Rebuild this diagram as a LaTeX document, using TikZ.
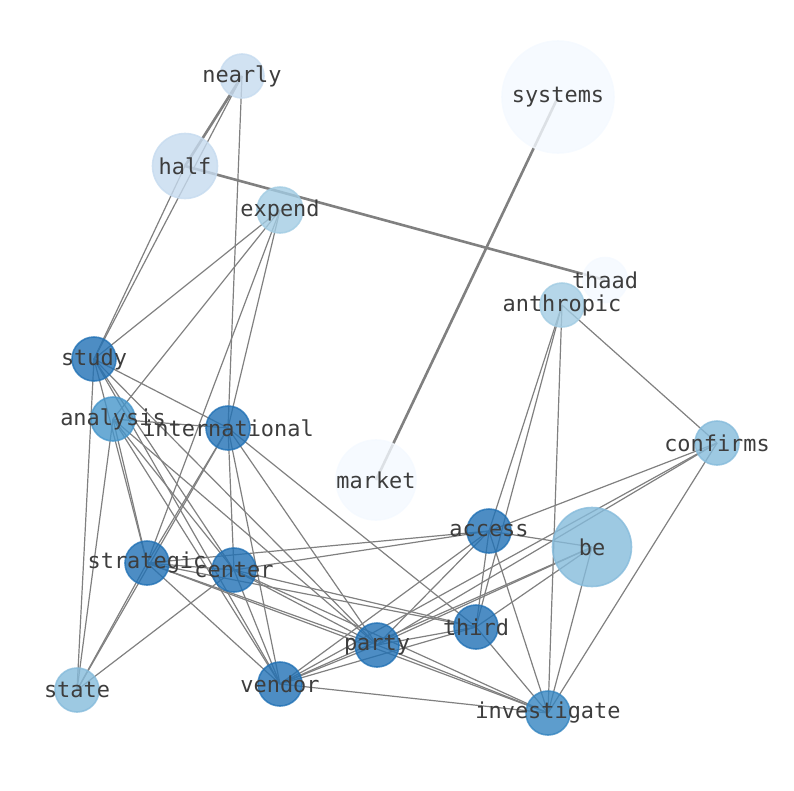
\documentclass[tikz,border=0pt]{standalone}
\usepackage{fontspec}
\setmonofont{DejaVu Sans Mono}
\usetikzlibrary{backgrounds}

\definecolor{bluedeep}{HTML}{2171B5}
\definecolor{bluemid}{HTML}{3585C0}
\definecolor{bluesoft}{HTML}{4696CB}
\definecolor{bluelight}{HTML}{85BBDB}
\definecolor{bluepale}{HTML}{A2CCE3}
\definecolor{bluemist}{HTML}{C6DBEF}
\definecolor{bluewhite}{HTML}{F4F9FF}
\newcommand{\wordfont}{\ttfamily\fontsize{21.9}{26}\selectfont}

\begin{document}
\begin{tikzpicture}[x=1pt, y=-1pt,
    word/.style={circle, inner sep=0pt, minimum size=44pt, line width=1.6pt,
      fill opacity=0.8, draw opacity=0.8,
      label={[inner sep=0pt, text opacity=1, text=black!76, font=\wordfont]center:#1}},
    tone/.style={fill=#1, draw=#1},
    link/.style={draw=gray, line width=1.2pt},
    heavy/.style={draw=gray, line width=2.6pt}]
  \useasboundingbox (0,0) rectangle (794,790);

  % words
  \node[word=systems, tone=bluewhite, minimum size=112pt] (systems) at (558, 97) {};
  \node[word=market, tone=bluewhite, minimum size=80pt] (market) at (376, 480) {};
  \node[word=thaad, tone=bluewhite, minimum size=45pt] (thaad) at (605, 280) {};
  \node[word=nearly, tone=bluemist] (nearly) at (242, 76) {};
  \node[word=half, tone=bluemist, minimum size=65pt] (half) at (185, 166) {};
  \node[word=expend, tone=bluepale, minimum size=46pt] (expend) at (280, 210) {};
  \node[word=anthropic, tone=bluepale] (anthropic) at (562, 305) {};
  \node[word=confirms, tone=bluelight] (confirms) at (717, 443) {};
  \node[word=be, tone=bluelight, minimum size=79pt] (be) at (592, 547) {};
  \node[word=state, tone=bluelight] (state) at (77, 690) {};
  \node[word=study, tone=bluedeep] (study) at (94, 359) {};
  \node[word=analysis, tone=bluesoft] (analysis) at (113, 419) {};
  \node[word=international, tone=bluedeep] (international) at (228, 428) {};
  \node[word=access, tone=bluedeep] (access) at (489, 531) {};
  \node[word=strategic, tone=bluedeep] (strategic) at (147, 563) {};
  \node[word=center, tone=bluedeep] (center) at (234, 570) {};
  \node[word=third, tone=bluedeep] (third) at (476, 627) {};
  \node[word=party, tone=bluedeep] (party) at (377, 645) {};
  \node[word=vendor, tone=bluedeep] (vendor) at (280, 684) {};
  \node[word=investigate, tone=bluemid] (investigate) at (548, 713) {};

  \begin{pgfonlayer}{background}
    % heavy links
    \draw[heavy] (nearly.center) -- (half.center);
    \draw[heavy] (half.center) -- (thaad.center);
    \draw[heavy] (systems.center) -- (market.center);
    % top words
    \draw[link] (nearly.center) -- (study.center);
    \draw[link] (nearly.center) -- (international.center);
    \draw[link] (half.center) -- (study.center);
    \draw[link] (expend.center) -- (study.center);
    \draw[link] (expend.center) -- (analysis.center);
    \draw[link] (expend.center) -- (strategic.center);
    \draw[link] (expend.center) -- (international.center);
    % study and analysis
    \draw[link] (study.center) -- (international.center);
    \draw[link] (study.center) -- (strategic.center);
    \draw[link] (study.center) -- (state.center);
    \draw[link] (study.center) -- (center.center);
    \draw[link] (study.center) -- (vendor.center);
    \draw[link] (study.center) -- (party.center);
    \draw[link] (analysis.center) -- (international.center);
    \draw[link] (analysis.center) -- (strategic.center);
    \draw[link] (analysis.center) -- (state.center);
    \draw[link] (analysis.center) -- (center.center);
    \draw[link] (analysis.center) -- (vendor.center);
    \draw[link] (analysis.center) -- (party.center);
    % international
    \draw[link] (international.center) -- (strategic.center);
    \draw[link] (international.center) -- (state.center);
    \draw[link] (international.center) -- (center.center);
    \draw[link] (international.center) -- (vendor.center);
    \draw[link] (international.center) -- (party.center);
    \draw[link] (international.center) -- (third.center);
    % strategic and center
    \draw[link] (strategic.center) -- (state.center);
    \draw[link] (strategic.center) -- (center.center);
    \draw[link] (strategic.center) -- (access.center);
    \draw[link] (strategic.center) -- (third.center);
    \draw[link] (strategic.center) -- (party.center);
    \draw[link] (strategic.center) -- (vendor.center);
    \draw[link] (strategic.center) -- (investigate.center);
    \draw[link] (center.center) -- (state.center);
    \draw[link] (center.center) -- (access.center);
    \draw[link] (center.center) -- (third.center);
    \draw[link] (center.center) -- (party.center);
    \draw[link] (center.center) -- (vendor.center);
    \draw[link] (center.center) -- (investigate.center);
    % right side
    \draw[link] (anthropic.center) -- (confirms.center);
    \draw[link] (anthropic.center) -- (access.center);
    \draw[link] (anthropic.center) -- (third.center);
    \draw[link] (anthropic.center) -- (investigate.center);
    \draw[link] (confirms.center) -- (access.center);
    \draw[link] (confirms.center) -- (party.center);
    \draw[link] (confirms.center) -- (vendor.center);
    \draw[link] (confirms.center) -- (investigate.center);
    \draw[link] (access.center) -- (be.center);
    \draw[link] (access.center) -- (third.center);
    \draw[link] (access.center) -- (party.center);
    \draw[link] (access.center) -- (vendor.center);
    \draw[link] (access.center) -- (investigate.center);
    \draw[link] (be.center) -- (third.center);
    \draw[link] (be.center) -- (party.center);
    \draw[link] (be.center) -- (vendor.center);
    \draw[link] (be.center) -- (investigate.center);
    % bottom words
    \draw[link] (third.center) -- (party.center);
    \draw[link] (third.center) -- (vendor.center);
    \draw[link] (third.center) -- (investigate.center);
    \draw[link] (party.center) -- (vendor.center);
    \draw[link] (party.center) -- (investigate.center);
    \draw[link] (vendor.center) -- (investigate.center);
  \end{pgfonlayer}
\end{tikzpicture}
\end{document}
